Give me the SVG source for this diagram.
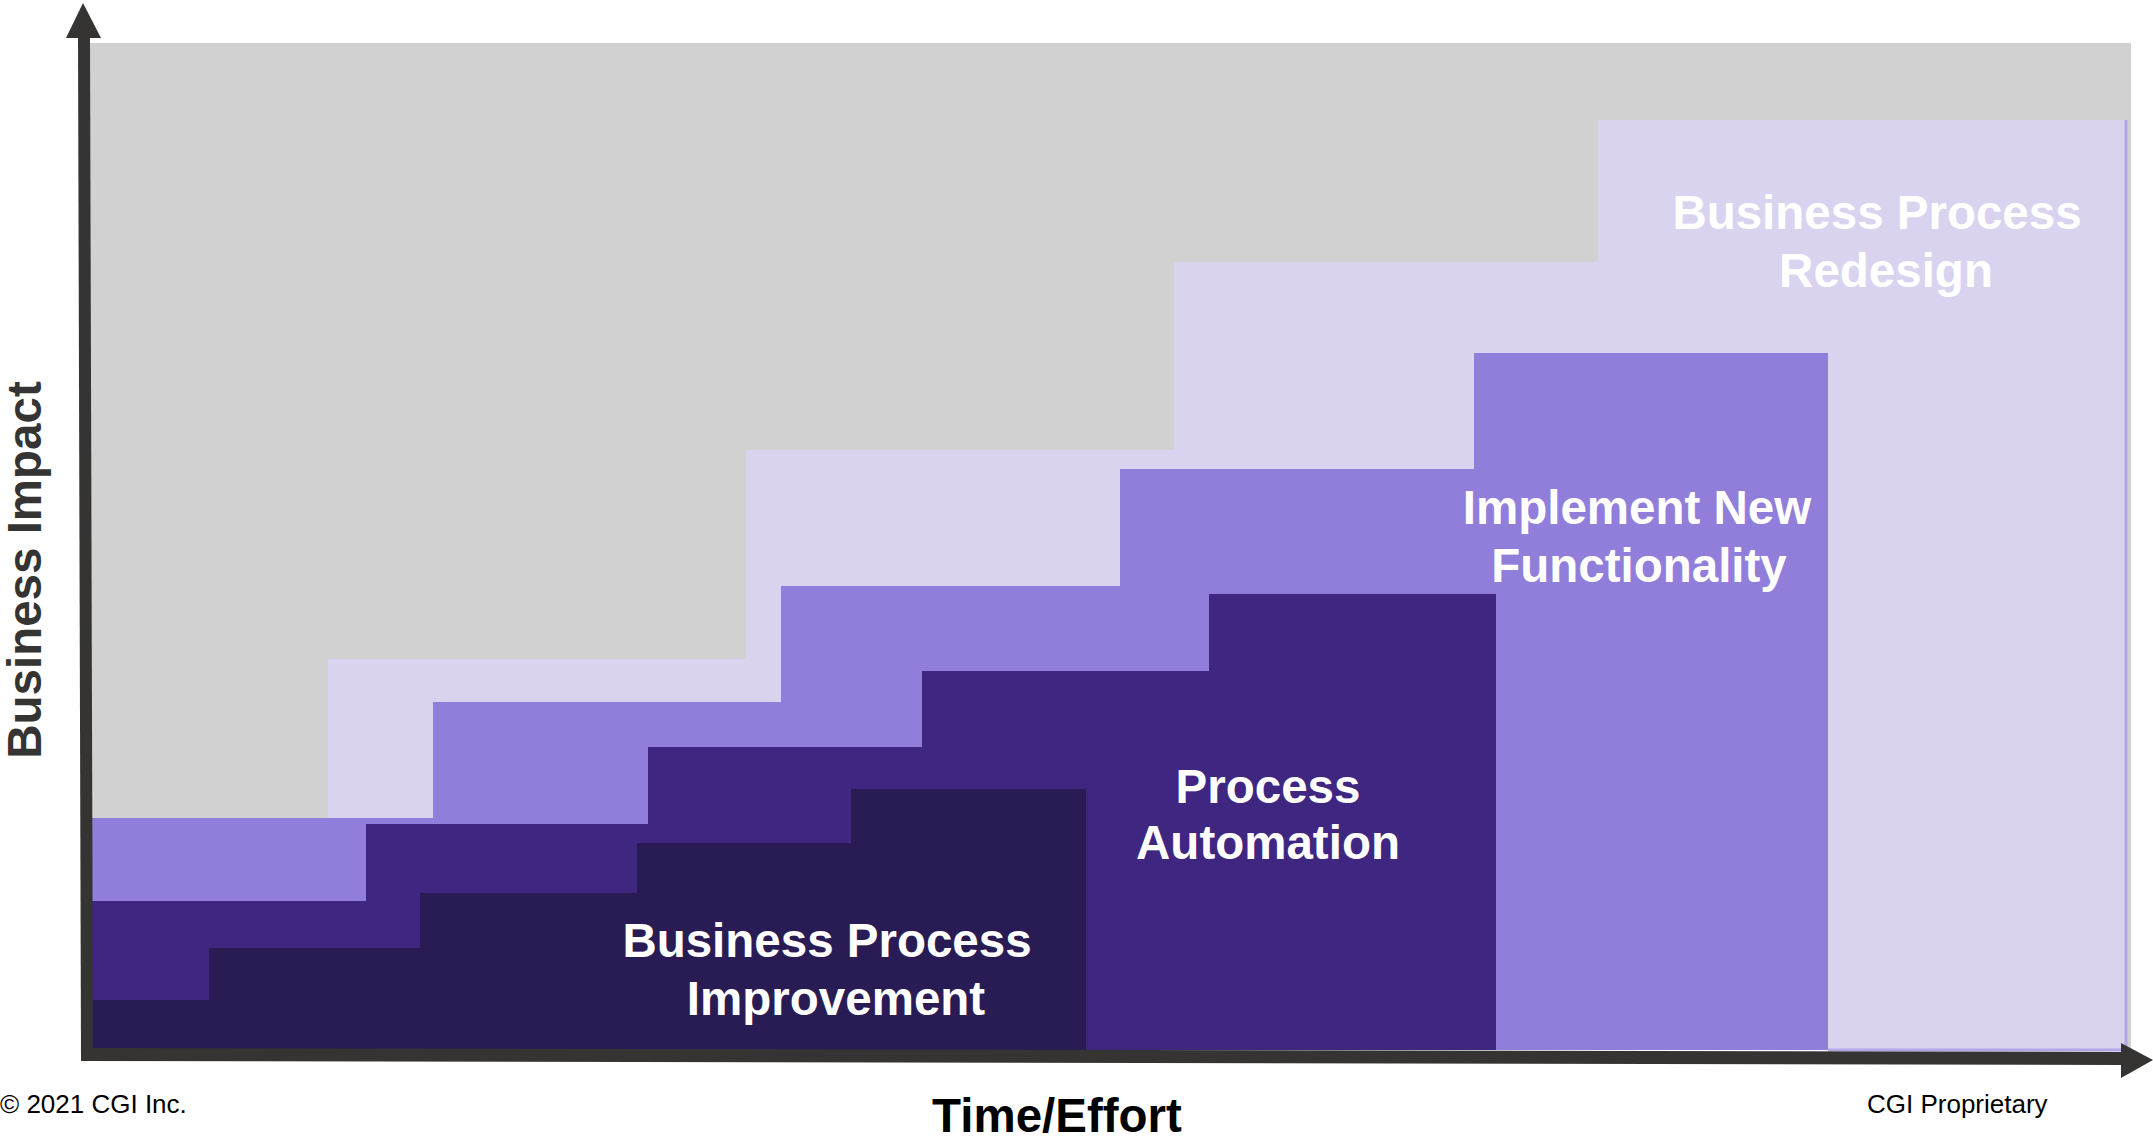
<svg xmlns="http://www.w3.org/2000/svg" width="2153" height="1139" viewBox="0 0 2153 1139">
<style>
.lbl{font-family:"Liberation Sans",Arial,sans-serif;font-weight:bold;font-size:47.5px;fill:#FFFFFF;text-anchor:middle}
.axis-title{font-family:"Liberation Sans",Arial,sans-serif;font-weight:bold;font-size:47.5px;text-anchor:middle}
.foot{font-family:"Liberation Sans",Arial,sans-serif;font-size:26px;fill:#000000}
.axis{fill:#353432}
</style>
<rect x="0" y="0" width="2153" height="1139" fill="#FFFFFF"/>
<g id="background">
<rect x="88" y="43" width="2043" height="1007" fill="#D1D1D1"/>
</g>
<g id="business-process-redesign">
<path d="M328,1050 V659 H746 V450 H1174 V262 H1598 V120 H2127 V1050 Z" fill="#D9D3F0"/>
<polyline points="2126,120 2126,1050 1828,1050" fill="none" stroke="#B3A6E6" stroke-width="3"/>
<text class="lbl" x="1877" y="229">Business Process</text>
<text class="lbl" x="1886" y="287">Redesign</text>
</g>
<g id="implement-new-functionality">
<path d="M90,1050 V818 H433 V702 H781 V586 H1120 V469 H1474 V353 H1828 V1050 Z" fill="#907EDA"/>
<text class="lbl" x="1637" y="524">Implement New</text>
<text class="lbl" x="1639" y="582">Functionality</text>
</g>
<g id="process-automation">
<path d="M90,1050 V901 H366 V824 H648 V747 H922 V671 H1209 V594 H1496 V1050 Z" fill="#3F2680"/>
<text class="lbl" x="1268" y="803">Process</text>
<text class="lbl" x="1268" y="859">Automation</text>
</g>
<g id="business-process-improvement">
<path d="M90,1050 V1000 H209 V948 H420 V893 H637 V843 H851 V789 H1086 V1050 Z" fill="#291C55"/>
<text class="lbl" x="827" y="957">Business Process</text>
<text class="lbl" x="836" y="1015">Improvement</text>
</g>
<g id="connectors">
<polygon class="axis" points="81,1061 93,1061 90,38 78,38"/>
<polygon class="axis" points="66,38 101,38 83,3"/>
<polygon class="axis" points="81,1048 2122,1052 2122,1065 81,1061"/>
<polygon class="axis" points="2121,1043 2153,1060 2121,1078"/>
</g>
<g id="axis-labels">
<text class="axis-title" x="1057" y="1132" fill="#000000">Time/Effort</text>
<text class="axis-title" transform="translate(41,570) rotate(-90)" x="0" y="0" fill="#353432">Business Impact</text>
</g>
<g id="footer">
<text class="foot" x="0" y="1113">© 2021 CGI Inc.</text>
<text class="foot" x="1867" y="1113">CGI Proprietary</text>
</g>
</svg>
